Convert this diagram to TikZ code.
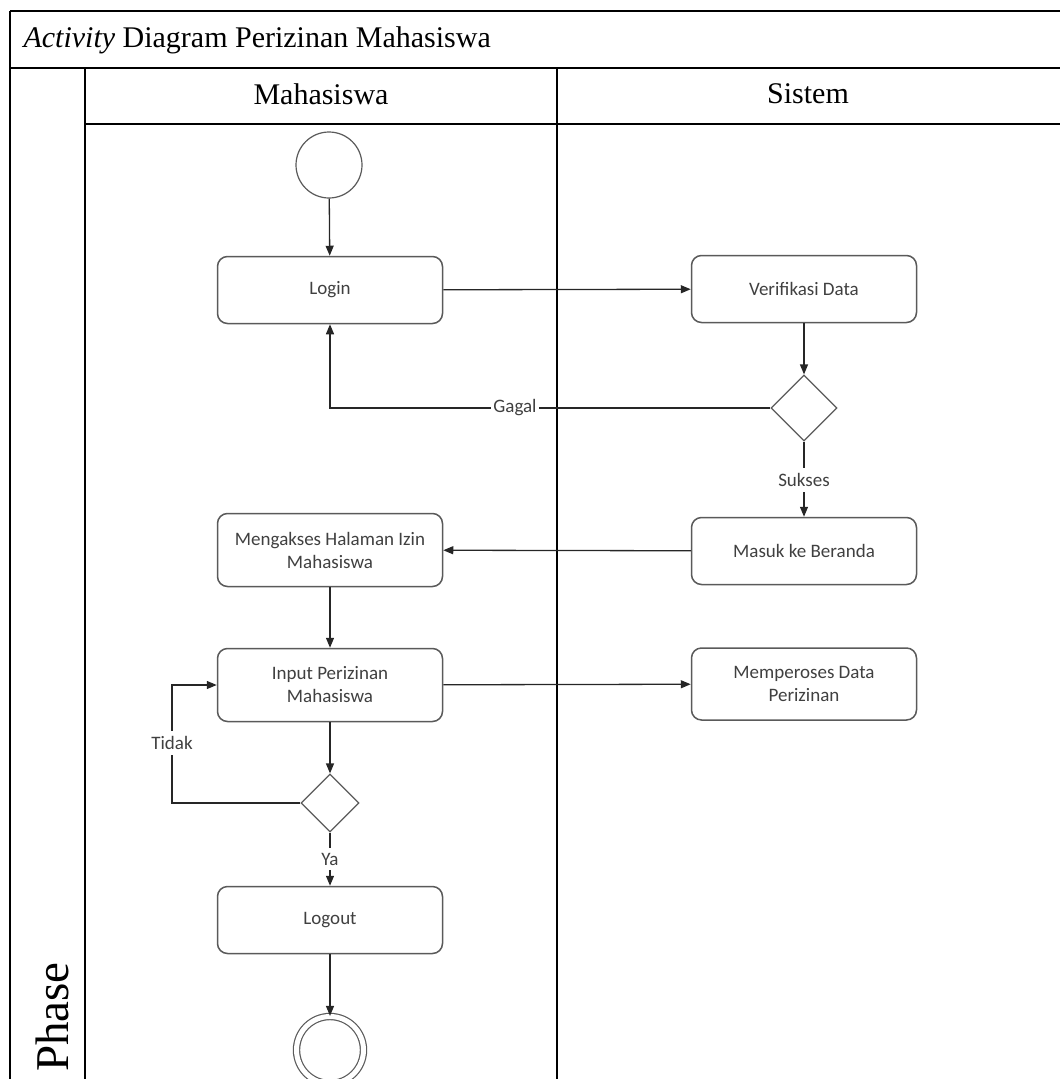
\documentclass[tikz,border=0pt]{standalone}
\usepackage{fontspec}
\setmainfont{Liberation Serif}
\newfontfamily\boxfont{Carlito}
\usetikzlibrary{shapes.geometric,arrows.meta}
\definecolor{boxgray}{HTML}{5A5A5A}
\definecolor{txtgray}{HTML}{404040}

\begin{document}
\begin{tikzpicture}[x=1pt,y=-1pt,
		activity/.style={shape=rectangle,rounded corners=10pt,draw=boxgray,line width=1.5pt,fill=white,minimum width=225pt,minimum height=67pt,align=center,font=\boxfont\fontsize{19}{23}\selectfont,text=txtgray},
		decision/.style={shape=diamond,draw=boxgray,line width=1.2pt,fill=white,inner sep=0pt},
		flow/.style={-{Triangle[length=10pt,width=8pt]},line width=1.3pt,draw=black!85},
		guard/.style={fill=white,inner xsep=2pt,inner ysep=5pt,font=\boxfont\fontsize{19}{22}\selectfont,text=txtgray},
		lane/.style={line width=2pt,draw=black}]
			\useasboundingbox (0,0) rectangle (1060,1079);
			
			% table frame
			\draw[lane] (10,11) -- (1060,11);
			\draw[lane] (10,68) -- (1060,68);
			\draw[lane] (85,124) -- (1060,124);
			\draw[lane] (10,11) -- (10,1079);
			\draw[lane] (85,68) -- (85,1079);
			\draw[lane] (557,68) -- (557,1079);
			
			\node[anchor=west,font=\fontsize{30}{36}\selectfont] (title) at (20,40) {\textit{Activity} Diagram Perizinan Mahasiswa};
			\node[font=\fontsize{30}{36}\selectfont] (lanemhs) at (321,94) {Mahasiswa};
			\node[font=\fontsize{30}{36}\selectfont] (lanesys) at (808,94) {Sistem};
			\node[rotate=90,font=\fontsize{47}{50}\selectfont] (phase) at (52,1017) {Phase};
			
			% activities
			\node[shape=circle,draw=boxgray,line width=1.2pt,fill=white,minimum size=66pt] (start) at (329,165) {};
			\node[activity] (login) at (330,290) {Login};
			\node[activity] (verif) at (804,289) {Verifikasi Data};
			\node[decision,minimum width=66pt,minimum height=66pt] (cek) at (804,408) {};
			\node[activity] (masuk) at (804,551) {Masuk ke Beranda};
			\node[activity,minimum height=73pt] (akses) at (330,550) {Mengakses Halaman Izin\\Mahasiswa};
			\node[activity,minimum height=73pt] (input) at (330,685) {Input Perizinan\\Mahasiswa};
			\node[activity,minimum height=72pt] (proses) at (804,684) {Memperoses Data\\Perizinan};
			\node[decision,minimum width=58pt,minimum height=58pt] (cek2) at (330,803) {};
			\node[activity] (logout) at (330,920) {Logout};
			\node[shape=circle,draw=boxgray,line width=1.2pt,double=white,double distance=5pt,fill=white,minimum size=67pt] (selesai) at (330,1050) {};
			\coordinate (loopkiri) at (172,803);
			
			% flows
			\draw[flow] (start) -- (login);
			\draw[flow] (login) -- (verif);
			\draw[flow] (verif) -- (cek);
			\draw[flow] (cek.west) -| (login.south);
			\draw[flow] (cek) -- (masuk);
			\draw[flow] (masuk) -- (akses);
			\draw[flow] (akses) -- (input);
			\draw[flow] (input) -- (proses);
			\draw[flow] (input) -- (cek2);
			\draw[flow] (cek2.west) -- (loopkiri) |- (input.west);
			\draw[flow] (cek2) -- (logout);
			\draw[flow] (logout) -- (selesai);
			
			% guards
			\node[guard] (gagal) at (515,408) {Gagal};
			\node[guard] (sukses) at (804,480) {Sukses};
			\node[guard] (tidak) at (172,743) {Tidak};
			\node[guard] (ya) at (330,859) {Ya};

		\end{tikzpicture}
\end{document}
